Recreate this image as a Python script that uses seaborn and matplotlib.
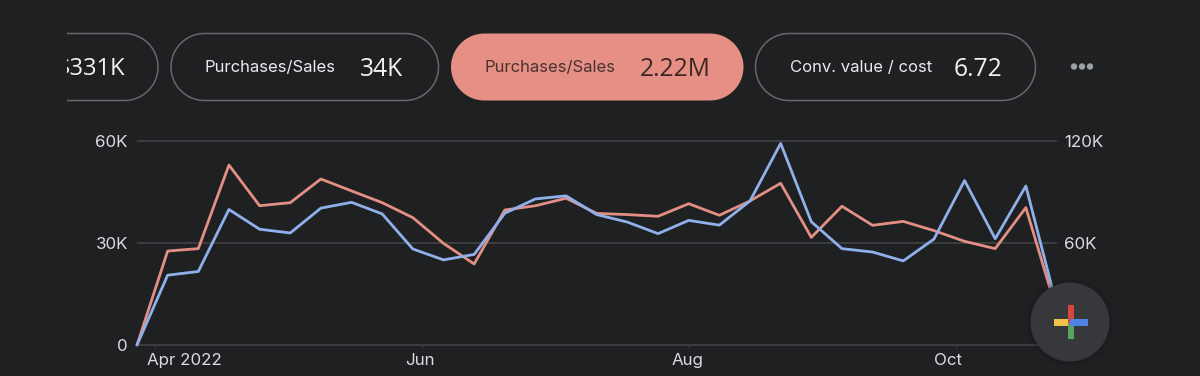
import matplotlib
matplotlib.use("Agg")
import matplotlib.pyplot as plt
from matplotlib.patches import Circle, Rectangle, Polygon
from matplotlib.transforms import ScaledTranslation
import numpy as np
import pandas as pd
import seaborn as sns

dates = pd.date_range("2022-03-28", periods=31, freq="7D")
blue_left = [0, 20.5, 21.6, 39.8, 34.0, 32.9, 40.2, 41.9, 38.5, 28.2, 25.0, 26.6, 38.7, 42.9, 43.8, 38.3,
             36.1, 32.7, 36.6, 35.2, 42.3, 59.2, 36.2, 28.3, 27.3, 24.7, 31.1, 48.3, 31.2, 46.7, 11.8]
red_right = [0, 55.2, 56.6, 105.7, 81.8, 83.6, 97.5, 90.5, 83.6, 74.8, 59.7, 47.6, 79.3, 81.8, 86.2, 77.3,
             76.6, 75.6, 83.0, 76.2, 84.6, 95.0, 63.2, 81.5, 70.3, 72.6, 67.2, 60.9, 56.6, 80.7, 20.6]
left_ticks = [0, 30, 60]
left_labels = ["0", "30K", "60K"]
right_ticks = [60, 120]
right_labels = ["60K", "120K"]
x_ticks = pd.to_datetime(["2022-04-01", "2022-06-01", "2022-08-01", "2022-10-01"])
x_labels = ["Apr 2022", "Jun", "Aug", "Oct"]
x_label_shift_px = [30, -2, -1, -8]
pills = [("", "$331K"), ("Purchases/Sales", "34K"), ("Purchases/Sales", "2.22M"), ("Conv. value / cost", "6.72")]

BG = "#1F2022"; RED = "#E38F83"; BLUE = "#8FB0EA"; GRID = "#434548"; TXT = "#DADCE0"
FONT = ["Inter", "DejaVu Sans"]
W, H = 1200, 376

sns.set_theme(style="dark")
plt.rcParams["font.family"] = FONT
fig = plt.figure(figsize=(W / 100, H / 100), dpi=100, facecolor=BG)

ax = fig.add_axes([137 / W, 1 - 345 / H, (1056.5 - 137) / W, (345 - 140.7) / H])
ax.set_facecolor("none")
ax2 = ax.twinx()
ax2.set_facecolor("none")
ax.set_zorder(3); ax2.set_zorder(2)

sns.lineplot(x=dates, y=red_right, ax=ax2, color=RED, linewidth=2.0, clip_on=False, zorder=3)
sns.lineplot(x=dates, y=blue_left, ax=ax, color=BLUE, linewidth=2.0, clip_on=False, zorder=4)

ax.set_xlim(dates[0], dates[-1])
ax.set_ylim(0, 60)
ax2.set_ylim(0, 120)
ax.set_yticks(left_ticks, left_labels)
ax2.set_yticks(right_ticks, right_labels)
ax.set_xticks(x_ticks, x_labels)
ax.grid(False); ax2.grid(False)
for v in left_ticks[1:]:
    ax2.axhline(v * 2, color=GRID, lw=1.1, zorder=1, clip_on=False, solid_capstyle="butt")
for a in (ax, ax2):
    for name, s in a.spines.items():
        s.set_visible(False)
ax.spines["bottom"].set_visible(True)
ax.spines["bottom"].set_color(GRID)
ax.spines["bottom"].set_linewidth(1.1)
ax.tick_params(axis="y", length=0, pad=6.5, labelsize=12.2, labelcolor=TXT)
ax2.tick_params(axis="y", length=0, pad=5.5, labelsize=12.2, labelcolor=TXT)
ax.tick_params(axis="x", length=2.5, width=0.7, color=GRID, pad=3.5, labelsize=12.2, labelcolor=TXT, bottom=True)
ax.set_xlabel(""); ax.set_ylabel("")
for lab, dx in zip(ax.get_xticklabels(), x_label_shift_px):
    lab.set_transform(lab.get_transform() + ScaledTranslation(dx / 100, 0, fig.dpi_scale_trans))

# overlay in pixel space: chips, menu dots, floating button
ov = fig.add_axes([0, 0, 1, 1], zorder=10)
ov.set_xlim(0, W); ov.set_ylim(H, 0); ov.axis("off"); ov.patch.set_alpha(0)


def pill(x0, x1, face, edge):
    y0, y1 = 33.5, 100.5
    r = (y1 - y0) / 2
    cy = (y0 + y1) / 2
    a = np.linspace(-np.pi / 2, np.pi / 2, 60)
    right = np.column_stack([x1 - r + r * np.cos(a), cy + r * np.sin(a)])
    left = np.column_stack([x0 + r - r * np.cos(a), cy - r * np.sin(a)])
    ov.add_patch(Polygon(np.vstack([right, left]), closed=True, fc=face, ec=edge, lw=1.1))


pill(0, 158, "none", "#66686B")
pill(171, 438.5, "none", "#66686B")
pill(451, 743.5, "#E58F85", "none")
pill(755.5, 1035.5, "none", "#66686B")
ov.add_patch(Rectangle((0, 20), 67, 95, fc=BG, ec="none", zorder=5))

LBL = dict(va="center_baseline", family=FONT, fontsize=12.0)
VFONT = ["Open Sans", "DejaVu Sans"]
VAL = dict(va="center_baseline", family=VFONT, fontsize=17.7)
t = ov.text(125.5, 66, pills[0][1], ha="right", color="#F1F3F4", va="center_baseline", family=VFONT, fontsize=17)
t.set_zorder(2)
ov.text(205, 66.5, pills[1][0], color="#E8EAED", **LBL)
ov.text(360, 66, pills[1][1], color="#F1F3F4", **VAL)
ov.text(485, 66.5, pills[2][0], color="#4A3230", **LBL)
ov.text(640, 66, pills[2][1], color="#3C2624", **VAL)
ov.text(789.5, 66.5, pills[3][0], color="#E8EAED", **LBL)
ov.text(954, 66, pills[3][1], color="#F1F3F4", **VAL)

for cx in (1074, 1082, 1090):
    ov.add_patch(Circle((cx, 66.5), 3.2, fc="#9AA0A6", ec="none"))

# floating "+" button
for rr, a in ((44, 0.10), (42, 0.14)):
    ov.add_patch(Circle((1070, 322), rr, fc="#151618", ec="none", alpha=a))
ov.add_patch(Circle((1070, 322), 39.5, fc="#37383C", ec="none"))
ov.add_patch(Rectangle((1053.5, 319), 17, 6.5, fc="#F2C24F", ec="none"))
ov.add_patch(Rectangle((1067.5, 322), 6.5, 17, fc="#57A55F", ec="none"))
ov.add_patch(Rectangle((1067.5, 305), 6.5, 18, fc="#D4483B", ec="none"))
ov.add_patch(Rectangle((1070, 319), 18, 6.5, fc="#4F84E6", ec="none"))

fig.savefig("out.png", dpi=100, facecolor=BG)
